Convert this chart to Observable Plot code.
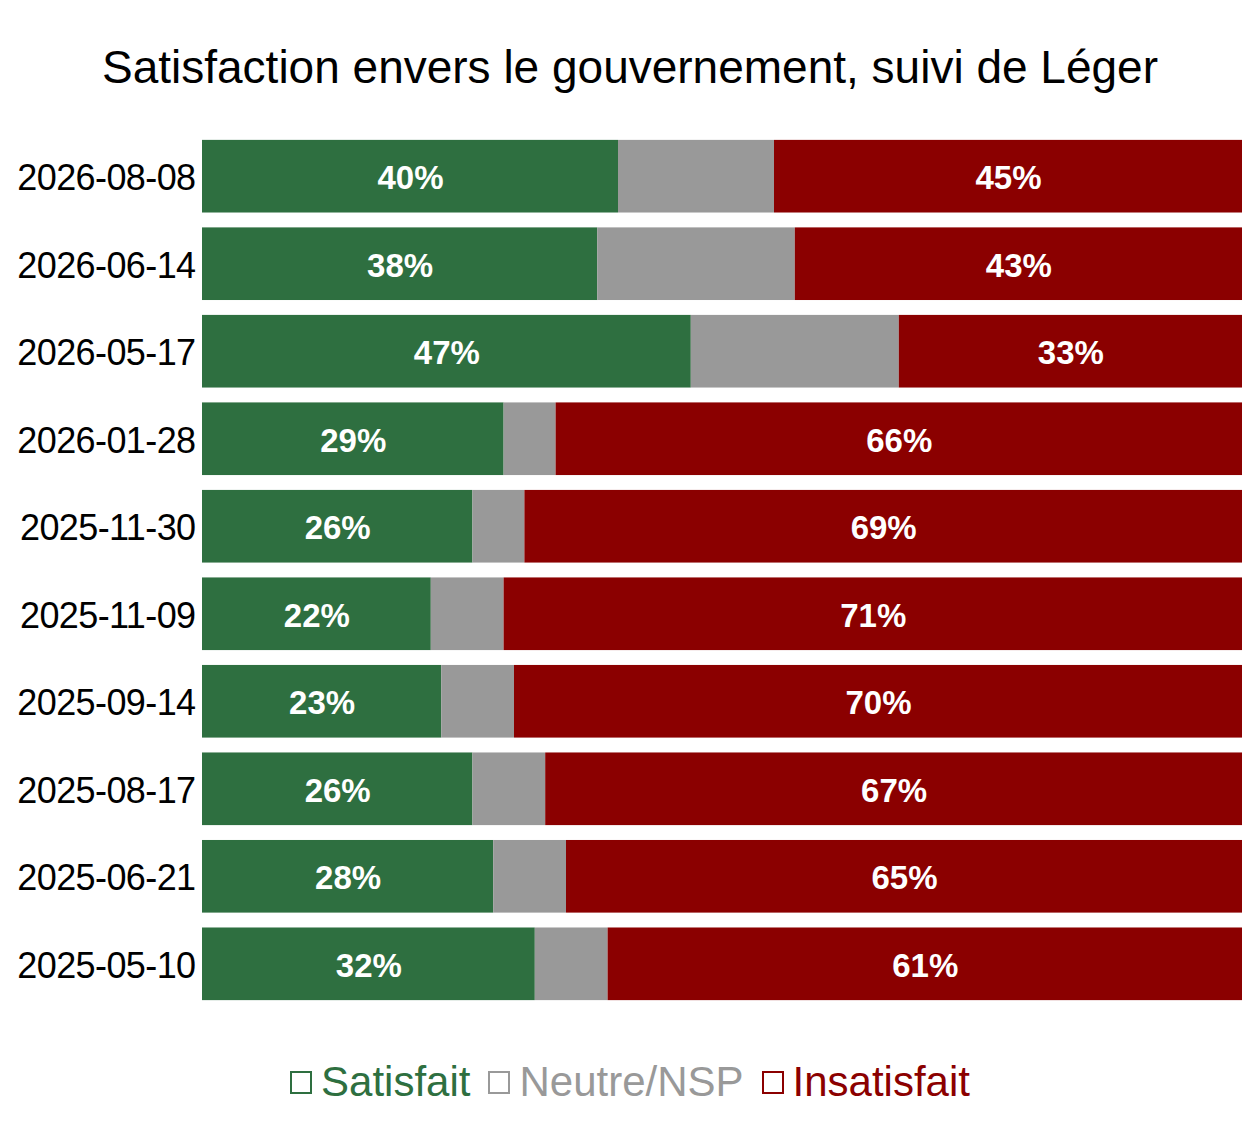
<!DOCTYPE html>
<html>
<head>
<meta charset="utf-8">
<script src="https://cdn.jsdelivr.net/npm/d3@7"></script>
<script src="https://cdn.jsdelivr.net/npm/@observablehq/plot@0.6"></script>
<style>
  html, body { margin: 0; padding: 0; background: #fff; }
  body { width: 1260px; font-family: "Liberation Sans", Arial, sans-serif; }
  #title { box-sizing: border-box; height: 120px; padding-top: 44px; text-align: center;
           font-size: 46px; line-height: 46px; letter-spacing: 0px; color: #000; white-space: nowrap; }
  #chart svg { display: block; }
  #legend { box-sizing: border-box; padding-top: 21px; text-align: center; font-size: 42px; line-height: 42px; white-space: nowrap; }
  .item { display: inline-block; margin: 0 9px; }
  .sw { display: inline-block; width: 22px; height: 23px; border: 2px solid; box-sizing: border-box; margin-right: 9px; vertical-align: 2px; }
  g[aria-label="y-axis tick label"] text { letter-spacing: -0.6px; }
</style>
</head>
<body>
<div id="title">Satisfaction envers le gouvernement, suivi de Léger</div>
<div id="chart"></div>
<div id="legend"></div>
<script>
const dates = ["2026-08-08","2026-06-14","2026-05-17","2026-01-28","2025-11-30","2025-11-09","2025-09-14","2025-08-17","2025-06-21","2025-05-10"];
const satisfait = [40,38,47,29,26,22,23,26,28,32];
const neutre = [15,19,20,5,5,7,7,7,7,7];
const insatisfait = [45,43,33,66,69,71,70,67,65,61];
const categories = ["Satisfait","Neutre/NSP","Insatisfait"];
const colors = ["#2e6f40","#999999","#8b0000"];

const series = [satisfait, neutre, insatisfait];
const data = [];
dates.forEach((d, i) => {
  categories.forEach((c, j) => data.push({date: d, cat: c, value: series[j][i]}));
});

const chart = Plot.plot({
  width: 1260,
  height: 920,
  marginTop: 5,
  marginBottom: 25,
  marginLeft: 202,
  marginRight: 18,
  style: {fontFamily: "'Liberation Sans', Arial, sans-serif", background: "#fff"},
  x: {domain: [0, 100], axis: null},
  y: {domain: dates, padding: 0.17, round: false, label: null},
  color: {domain: categories, range: colors},
  marks: [
    Plot.axisY({tickSize: 0, tickPadding: 7, fontSize: 36, color: "#000", label: null, dy: 2}),
    Plot.barX(data, Plot.stackX({x: "value", y: "date", fill: "cat", order: categories})),
    Plot.text(data, Plot.stackX({
      x: "value", y: "date", z: "cat", order: categories,
      text: d => d.cat === "Neutre/NSP" ? null : d.value + "%",
      fill: "#fff", fontSize: 33, fontWeight: "bold", dy: 2
    }))
  ]
});
document.getElementById("chart").appendChild(chart);

const legend = document.getElementById("legend");
categories.forEach((c, j) => {
  const item = document.createElement("span");
  item.className = "item";
  item.style.color = colors[j];
  const sw = document.createElement("span");
  sw.className = "sw";
  sw.style.borderColor = colors[j];
  item.appendChild(sw);
  item.appendChild(document.createTextNode(c));
  legend.appendChild(item);
});
</script>
</body>
</html>
